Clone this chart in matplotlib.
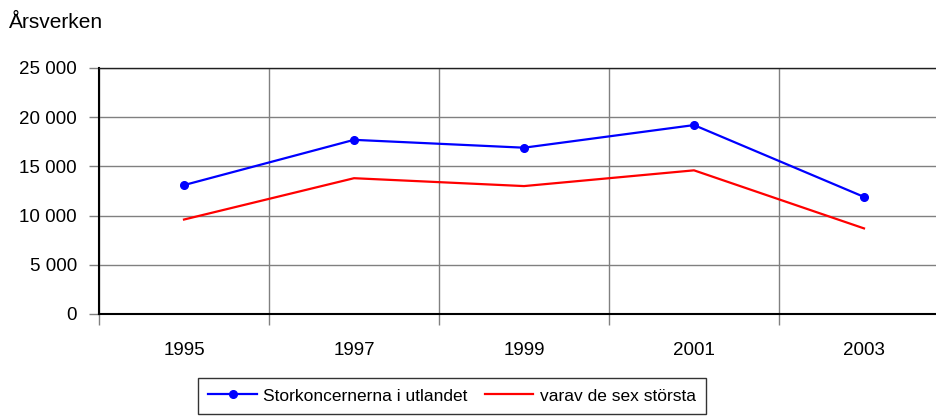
import numpy as np
import matplotlib.pyplot as plt
from matplotlib.ticker import FuncFormatter, FixedLocator

plt.rcParams['font.family'] = ['Liberation Sans', 'DejaVu Sans']

# data
years = ['1995', '1997', '1999', '2001', '2003']
storkoncerner = [13100, 17700, 16900, 19200, 11900]
sex_storsta = [9600, 13800, 13000, 14600, 8700]
y_ticks = [0, 5000, 10000, 15000, 20000, 25000]

fig = plt.figure(figsize=(9.36, 4.17), dpi=100)
# axes runs past the right edge of the picture, like the original crop
ax = fig.add_axes([99 / 936, 1 - 314 / 417, 850 / 936, 246 / 417])

x = np.arange(len(years))
ax.plot(x, storkoncerner, color='#0000FF', lw=1.6, marker='o', ms=5.5,
        label='Storkoncernerna i utlandet')
ax.plot(x, sex_storsta, color='#FF0000', lw=1.6, label='varav de sex största')

ax.set_xlim(-0.5, len(years) - 0.5)
ax.set_ylim(0, 25000)
ax.set_yticks(y_ticks)
ax.yaxis.set_major_formatter(FuncFormatter(lambda v, p: f'{int(v):,}'.replace(',', ' ')))

ax.set_xticks(x)
ax.set_xticklabels(years)
ax.xaxis.set_minor_locator(FixedLocator(np.arange(-0.5, len(years), 1.0)))
ax.tick_params(axis='x', which='major', length=0, pad=20, labelsize=13.5)
ax.tick_params(axis='x', which='minor', length=8, width=1, color='#808080')
ax.tick_params(axis='y', length=7, width=1, pad=9, labelsize=13.5, color='#808080')

ax.grid(True, axis='y', color='#808080', lw=1)
ax.grid(True, axis='x', which='minor', color='#808080', lw=1)
ax.set_axisbelow(True)

for side in ['left', 'bottom']:
    ax.spines[side].set_linewidth(1.5)
    ax.spines[side].set_color('black')
ax.spines['top'].set_linewidth(1)
ax.spines['top'].set_color('#202020')
ax.spines['right'].set_visible(False)

fig.text(9 / 936, 1 - 22 / 417, 'Årsverken', fontsize=15, va='center', ha='left')

leg = fig.legend(loc='upper left', bbox_to_anchor=(198 / 936, 1 - 378 / 417),
                 ncol=2, fontsize=12.5, frameon=True, fancybox=False,
                 handlelength=2.8, handletextpad=0.35, columnspacing=1.0,
                 borderpad=0.6, borderaxespad=0)
leg.get_frame().set_edgecolor('black')
leg.get_frame().set_linewidth(1)

fig.savefig('out.png', dpi=100)
